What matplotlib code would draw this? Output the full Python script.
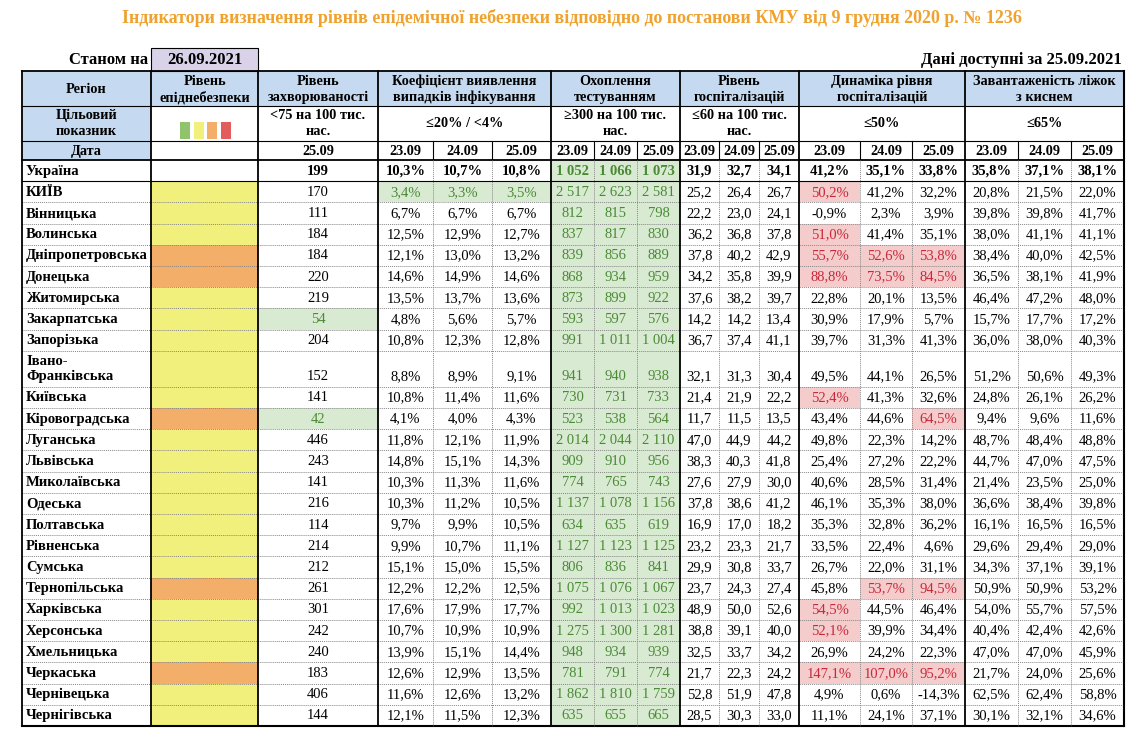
import matplotlib.pyplot as plt
from matplotlib.patches import Rectangle

plt.rcParams['font.family'] = ['Liberation Serif', 'DejaVu Serif']

# ---------------------------------------------------------
# Data
# ---------------------------------------------------------
title = ("Індикатори визначення рівнів епідемічної небезпеки відповідно "
         "до постанови КМУ від 9 грудня 2020 р. № 1236")
as_of = "26.09.2021"
data_for = "Дані доступні за 25.09.2021"

dates3 = ["23.09", "24.09", "25.09"]
inc_date = "25.09"

regions = ["Україна", "КИЇВ", "Вінницька", "Волинська", "Дніпропетровська",
           "Донецька", "Житомирська", "Закарпатська", "Запорізька",
           "Івано-\nФранківська", "Київська", "Кіровоградська", "Луганська",
           "Львівська", "Миколаївська", "Одеська", "Полтавська", "Рівненська",
           "Сумська", "Тернопільська", "Харківська", "Херсонська",
           "Хмельницька", "Черкаська", "Чернівецька", "Чернігівська"]

danger = [None, "Y", "Y", "Y", "O", "O", "Y", "Y", "Y", "Y", "Y", "O", "Y",
          "Y", "Y", "Y", "Y", "Y", "Y", "O", "Y", "Y", "Y", "O", "Y", "Y"]

incidence = [199, 170, 111, 184, 184, 220, 219, 54, 204, 152, 141, 42, 446,
             243, 141, 216, 114, 214, 212, 261, 301, 242, 240, 183, 406, 144]

detection = [(10.3, 10.7, 10.8), (3.4, 3.3, 3.5), (6.7, 6.7, 6.7),
             (12.5, 12.9, 12.7), (12.1, 13.0, 13.2), (14.6, 14.9, 14.6),
             (13.5, 13.7, 13.6), (4.8, 5.6, 5.7), (10.8, 12.3, 12.8),
             (8.8, 8.9, 9.1), (10.8, 11.4, 11.6), (4.1, 4.0, 4.3),
             (11.8, 12.1, 11.9), (14.8, 15.1, 14.3), (10.3, 11.3, 11.6),
             (10.3, 11.2, 10.5), (9.7, 9.9, 10.5), (9.9, 10.7, 11.1),
             (15.1, 15.0, 15.5), (12.2, 12.2, 12.5), (17.6, 17.9, 17.7),
             (10.7, 10.9, 10.9), (13.9, 15.1, 14.4), (12.6, 12.9, 13.5),
             (11.6, 12.6, 13.2), (12.1, 11.5, 12.3)]

testing = [(1052, 1066, 1073), (2517, 2623, 2581), (812, 815, 798),
           (837, 817, 830), (839, 856, 889), (868, 934, 959),
           (873, 899, 922), (593, 597, 576), (991, 1011, 1004),
           (941, 940, 938), (730, 731, 733), (523, 538, 564),
           (2014, 2044, 2110), (909, 910, 956), (774, 765, 743),
           (1137, 1078, 1156), (634, 635, 619), (1127, 1123, 1125),
           (806, 836, 841), (1075, 1076, 1067), (992, 1013, 1023),
           (1275, 1300, 1281), (948, 934, 939), (781, 791, 774),
           (1862, 1810, 1759), (635, 655, 665)]

hospital = [(31.9, 32.7, 34.1), (25.2, 26.4, 26.7), (22.2, 23.0, 24.1),
            (36.2, 36.8, 37.8), (37.8, 40.2, 42.9), (34.2, 35.8, 39.9),
            (37.6, 38.2, 39.7), (14.2, 14.2, 13.4), (36.7, 37.4, 41.1),
            (32.1, 31.3, 30.4), (21.4, 21.9, 22.2), (11.7, 11.5, 13.5),
            (47.0, 44.9, 44.2), (38.3, 40.3, 41.8), (27.6, 27.9, 30.0),
            (37.8, 38.6, 41.2), (16.9, 17.0, 18.2), (23.2, 23.3, 21.7),
            (29.9, 30.8, 33.7), (23.7, 24.3, 27.4), (48.9, 50.0, 52.6),
            (38.8, 39.1, 40.0), (32.5, 33.7, 34.2), (21.7, 22.3, 24.2),
            (52.8, 51.9, 47.8), (28.5, 30.3, 33.0)]

dynamics = [(41.2, 35.1, 33.8), (50.2, 41.2, 32.2), (-0.9, 2.3, 3.9),
            (51.0, 41.4, 35.1), (55.7, 52.6, 53.8), (88.8, 73.5, 84.5),
            (22.8, 20.1, 13.5), (30.9, 17.9, 5.7), (39.7, 31.3, 41.3),
            (49.5, 44.1, 26.5), (52.4, 41.3, 32.6), (43.4, 44.6, 64.5),
            (49.8, 22.3, 14.2), (25.4, 27.2, 22.2), (40.6, 28.5, 31.4),
            (46.1, 35.3, 38.0), (35.3, 32.8, 36.2), (33.5, 22.4, 4.6),
            (26.7, 22.0, 31.1), (45.8, 53.7, 94.5), (54.5, 44.5, 46.4),
            (52.1, 39.9, 34.4), (26.9, 24.2, 22.3), (147.1, 107.0, 95.2),
            (4.9, 0.6, -14.3), (11.1, 24.1, 37.1)]

oxygen = [(35.8, 37.1, 38.1), (20.8, 21.5, 22.0), (39.8, 39.8, 41.7),
          (38.0, 41.1, 41.1), (38.4, 40.0, 42.5), (36.5, 38.1, 41.9),
          (46.4, 47.2, 48.0), (15.7, 17.7, 17.2), (36.0, 38.0, 40.3),
          (51.2, 50.6, 49.3), (24.8, 26.1, 26.2), (9.4, 9.6, 11.6),
          (48.7, 48.4, 48.8), (44.7, 47.0, 47.5), (21.4, 23.5, 25.0),
          (36.6, 38.4, 39.8), (16.1, 16.5, 16.5), (29.6, 29.4, 29.0),
          (34.3, 37.1, 39.1), (50.9, 50.9, 53.2), (54.0, 55.7, 57.5),
          (40.4, 42.4, 42.6), (47.0, 47.0, 45.9), (21.7, 24.0, 25.6),
          (62.5, 62.4, 58.8), (30.1, 32.1, 34.6)]

headers = ["Регіон", "Рівень\nепіднебезпеки", "Рівень\nзахворюваності",
           "Коефіцієнт виявлення\nвипадків інфікування",
           "Охоплення\nтестуванням", "Рівень\nгоспіталізацій",
           "Динаміка рівня\nгоспіталізацій", "Завантаженість ліжок\nз киснем"]
targets = ["Цільовий\nпоказник", "", "<75 на 100 тис.\nнас.", "≤20% / <4%",
           "≥300 на 100 тис.\nнас.", "≤60 на 100 тис.\nнас.", "≤50%", "≤65%"]

# ---------------------------------------------------------
# Styles
# ---------------------------------------------------------
HEAD_BLUE = "#c5daf0"
LAVENDER = "#d9d2e9"
GREEN_BG, GREEN_TX = "#d9ead3", "#4a8a35"
RED_BG, RED_TX = "#f4cccc", "#c8283a"
LEVEL_COL = {"Y": "#f2f07c", "O": "#f3ae6a"}
SQUARES = ["#8fc46c", "#f2f07c", "#f3ae6a", "#e35d5d"]
TITLE_COL = "#f0a22e"

# column edges (pixels) and groups
xs = [22, 151, 258, 378, 433, 492, 551, 594, 637, 680, 719, 759, 799,
      860, 912, 965, 1018, 1071, 1124]
groups = [(0, 1), (1, 2), (2, 3), (3, 6), (6, 9), (9, 12), (12, 15), (15, 18)]
y_head, y_tgt, y_date, y_data = 71, 106, 141, 160
row_h, tall_h = 21.2, 36
FS = 10.5
HS = 10.3

fig = plt.figure(figsize=(11.41, 7.29), dpi=100)
ax = fig.add_axes([0, 0, 1, 1])
ax.set_xlim(0, 1141)
ax.set_ylim(729, 0)
ax.axis("off")


def fill(x0, x1, y0, y1, color):
    ax.add_patch(Rectangle((x0, y0), x1 - x0, y1 - y0, facecolor=color,
                           edgecolor="none", zorder=1))


def hline(y, x0, x1, lw=0.8, dotted=False):
    ax.plot([x0, x1], [y, y], color="#888888" if dotted else "black",
            lw=0.7 if dotted else lw,
            ls=(0, (1, 1)) if dotted else "-", zorder=3)


def vline(x, y0, y1, lw=0.8, dotted=False):
    ax.plot([x, x], [y0, y1], color="#888888" if dotted else "black",
            lw=0.7 if dotted else lw,
            ls=(0, (1, 1)) if dotted else "-", zorder=3)


def txt(x, y, s, ha="center", size=FS, bold=False, color="black",
        va="center", ls=1.0):
    ax.text(x, y, s, ha=ha, va=va, fontsize=size, color=color,
            fontweight="bold" if bold else "normal", zorder=4,
            linespacing=ls)


# title and top line
txt(572, 18, title, size=13, bold=True, color=TITLE_COL)
txt(148, 60, "Станом на", ha="right", size=12, bold=True)
fill(151, 258, 48, 71, LAVENDER)
ax.add_patch(Rectangle((151, 48), 107, 23, facecolor="none",
                       edgecolor="black", lw=0.8, zorder=3))
txt(204.5, 60, as_of, size=12, bold=True)
txt(1122, 60, data_for, ha="right", size=12, bold=True)

# header rows
fill(xs[0], xs[-1], y_head, y_tgt, HEAD_BLUE)
fill(xs[0], xs[1], y_tgt, y_data, HEAD_BLUE)
for (a, b), h, t in zip(groups, headers, targets):
    cx = (xs[a] + xs[b]) / 2
    txt(cx, (y_head + y_tgt) / 2 + 1, h, size=HS, bold=True, ls=1.25)
    if t:
        txt(cx, (y_tgt + y_date) / 2, t, size=HS, bold=True, ls=1.25)
txt((xs[0] + xs[1]) / 2, (y_date + y_data) / 2 + 1, "Дата", size=HS, bold=True)
txt((xs[2] + xs[3]) / 2, (y_date + y_data) / 2 + 1, inc_date, size=HS, bold=True)
for (a, b) in groups[3:]:
    for k in range(3):
        txt((xs[a + k] + xs[a + k + 1]) / 2, (y_date + y_data) / 2 + 1,
            dates3[k], size=HS, bold=True)

# traffic-light legend
for k, c in enumerate(SQUARES):
    fill(180 + k * 13.5, 190 + k * 13.5, 122, 139, c)

# data rows
tops = [y_data]
for name in regions:
    tops.append(tops[-1] + (tall_h if "\n" in name else row_h))
y_end = tops[-1]


def pct(v):
    return f"{v:.1f}".replace(".", ",") + "%"


def dec(v):
    return f"{v:.1f}".replace(".", ",")


def thou(v):
    return f"{v:,}".replace(",", " ")


for i, name in enumerate(regions):
    y0, y1 = tops[i], tops[i + 1]
    yc = y1 - row_h / 2 + 0.5
    bold = i == 0
    txt(26, (y0 + y1) / 2 + 0.5, name, ha="left", size=10.5, bold=True,
        ls=1.15)
    if danger[i]:
        fill(xs[1], xs[2], y0, y1, LEVEL_COL[danger[i]])

    # incidence
    good = incidence[i] < 75
    if good:
        fill(xs[2], xs[3], y0, y1, GREEN_BG)
    txt((xs[2] + xs[3]) / 2, yc, str(incidence[i]), bold=bold,
        color=GREEN_TX if good else "black")

    series = [(3, detection, pct, lambda v: v < 4, "g"),
              (6, testing, thou, lambda v: v >= 300, "g"),
              (9, hospital, dec, lambda v: v > 60, "r"),
              (12, dynamics, pct, lambda v: v > 50, "r"),
              (15, oxygen, pct, lambda v: v > 65, "r")]
    for start, vals, fmt, flag, kind in series:
        for k, v in enumerate(vals[i]):
            xa, xb = xs[start + k], xs[start + k + 1]
            col = "black"
            if flag(v):
                fill(xa, xb, y0, y1, GREEN_BG if kind == "g" else RED_BG)
                col = GREEN_TX if kind == "g" else RED_TX
            txt((xa + xb) / 2, yc, fmt(v), bold=bold, color=col)

    if i > 1:
        hline(y0, xs[0], xs[-1], dotted=True)

# grid lines
hline(y_head, xs[0], xs[-1], lw=1.3)
hline(y_tgt, xs[0], xs[-1])
hline(y_date, xs[0], xs[-1])
hline(y_data, xs[0], xs[-1], lw=1.3)
hline(tops[1], xs[0], xs[-1], lw=0.8)
hline(y_end, xs[0], xs[-1], lw=1.5)
for a, b in groups[3:]:
    for k in range(1, 3):
        vline(xs[a + k], y_date, y_data)
        vline(xs[a + k], y_data, y_end, dotted=True)
for (a, b) in groups:
    vline(xs[a], y_head, y_end, lw=1.3)
vline(xs[-1], y_head, y_end, lw=1.5)

fig.savefig("out.png", dpi=100)
